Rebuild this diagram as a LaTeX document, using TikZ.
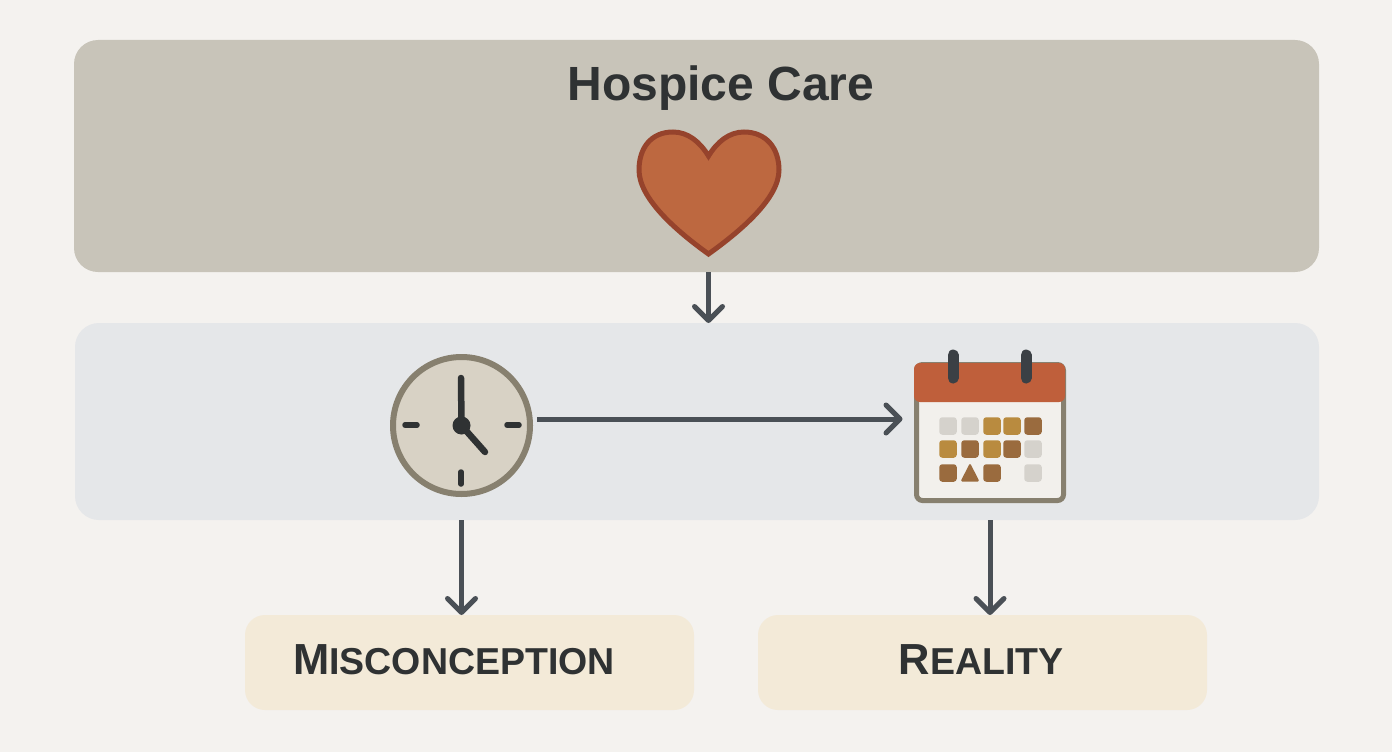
\documentclass[tikz,border=0pt]{standalone}
\usepackage{xcolor}
\usepackage{fontspec}
\usetikzlibrary{arrows.meta}
\setmainfont{Liberation Sans}

\definecolor{pagebg}{HTML}{F4F2EF}
\definecolor{toppanel}{HTML}{C8C4B9}
\definecolor{midpanel}{HTML}{E5E7E9}
\definecolor{boxbg}{HTML}{F3EAD8}
\definecolor{arrowgrey}{HTML}{4A5056}
\definecolor{inkdark}{HTML}{2F3233}
\definecolor{heartfill}{HTML}{BD6840}
\definecolor{heartline}{HTML}{96432C}
\definecolor{clockface}{HTML}{D8D2C5}
\definecolor{rimgrey}{HTML}{87806F}
\definecolor{calred}{HTML}{BF5F3B}
\definecolor{calpaper}{HTML}{F2F0EC}
\definecolor{cellgrey}{HTML}{D5D2CC}
\definecolor{cellgold}{HTML}{B98B3F}
\definecolor{cellbrown}{HTML}{9A6B3E}

\newcommand{\capsword}[2]{{\fontsize{43.5}{44}\selectfont #1}{\fontsize{37.5}{44}\selectfont #2}}

\tikzset{
	panel/.style={rounded corners=24, inner sep=0, outer sep=0},
	labelbox/.style={rounded corners=20, fill=boxbg, minimum width=449, minimum height=95, inner sep=0, outer sep=0},
	boxlabel/.style={anchor=base, text=inkdark, font=\bfseries, inner sep=0},
	flow/.style={draw=arrowgrey, line width=5, -{Straight Barb[length=14, width=28, line width=5, round]}},
	tick/.style={draw=inkdark, line width=5.5, line cap=round},
	cell/.style={rounded corners=3, minimum size=17.5, inner sep=0, outer sep=0},
	greycell/.style={cell, fill=cellgrey},
	goldcell/.style={cell, fill=cellgold},
	browncell/.style={cell, fill=cellbrown}
}

\begin{document}
\begin{tikzpicture}[x=1pt, y=-1pt, node distance=513pt]
	\useasboundingbox (0,0) rectangle (1392,752);
	\fill[pagebg] (0,0) rectangle (1392,752);

	\node[panel, fill=toppanel, minimum width=1245, minimum height=232] (top) at (696.5,156) {};
	\node[panel, fill=midpanel, minimum width=1244, minimum height=197] (mid) at (697,421.5) {};
	\node[labelbox] (mis) at (469.5,662.5) {};
	\node[labelbox] (real)[right of = mis] {};

	\node[anchor=base, text=inkdark, font=\fontsize{48}{48}\selectfont\bfseries, inner sep=0] (title) at (721,100) {Hospice Care};
	\node[boxlabel] (mislabel) at (454,674) {\capsword{M}{ISCONCEPTION}};
	\node[boxlabel] (reallabel) at (981,674) {\capsword{R}{EALITY}};

	% heart
	\coordinate (heart) at (708.5,190);
	\draw[fill=heartfill, draw=heartline, line width=5, line join=miter]
		(708.5,156) .. controls (700,142) and (688,132) .. (673,132)
		.. controls (651,132) and (639,148) .. (639,170)
		.. controls (639,198) and (675,230) .. (708.5,254)
		.. controls (742,230) and (779,198) .. (779,170)
		.. controls (779,148) and (766,132) .. (744,132)
		.. controls (729,132) and (717,142) .. (708.5,156) -- cycle;

	% clock
	\node[circle, fill=clockface, draw=rimgrey, line width=6, minimum size=137, inner sep=0, outer sep=0] (clock) at (461.5,425.5) {};
	\coordinate (tl1) at (405,425);
	\coordinate (tl2) at (417,425);
	\coordinate (tr1) at (507,425);
	\coordinate (tr2) at (519,425);
	\coordinate (tb1) at (461,472);
	\coordinate (tb2) at (461,484);
	\coordinate (minute) at (461,378);
	\coordinate (hour) at (485,452);
	\draw[tick] (tl1) -- (tl2);
	\draw[tick] (tr1) -- (tr2);
	\draw[tick] (tb1) -- (tb2);
	\draw[tick, line width=6.5] (clock.center) -- (minute);
	\draw[tick, line width=6.5] (clock.center) -- (hour);
	\node[circle, fill=inkdark, minimum size=18, inner sep=0] (hub) at (clock.center) {};

	% calendar
	\node[fill=calpaper, draw=rimgrey, line width=5, rounded corners=6, minimum width=147, minimum height=136, inner sep=0, outer sep=0] (cal) at (990,432.5) {};
	\fill[calred, rounded corners=6] (914,402) -- (914,363) -- (1065,363) -- (1065,402) -- cycle;
	\draw[line width=11, line cap=round, draw=arrowgrey!80!black] (953,355) -- (953,378);
	\draw[line width=11, line cap=round, draw=arrowgrey!80!black] (1026,355) -- (1026,378);

	\node[greycell] (c11) at (948,426) {};
	\node[greycell] (c12) at (970,426) {};
	\node[goldcell] (c13) at (992,426) {};
	\node[goldcell] (c14) at (1012,426) {};
	\node[browncell] (c15) at (1033,426) {};
	\node[goldcell] (c21) at (948,449) {};
	\node[browncell] (c22) at (970,449) {};
	\node[goldcell] (c23) at (992,449) {};
	\node[browncell] (c24) at (1012,449) {};
	\node[greycell] (c25) at (1033,449) {};
	\node[browncell] (c31) at (948,473) {};
	\fill[cellbrown, rounded corners=1.5] (970,463) -- (979.5,481.5) -- (960.5,481.5) -- cycle;
	\node[browncell] (c33) at (992,473) {};
	\node[greycell] (c35) at (1033,473) {};

	% connectors
	\draw[flow] (heart |- top.south) -- (heart |- mid.north);
	\draw[flow] ([xshift=7pt, yshift=6.5pt]clock.east) -- ([xshift=-14pt, yshift=13.5pt]cal.west);
	\draw[flow] (clock.south |- mid.south) -- (clock.south |- mis.north);
	\draw[flow] (cal.south |- mid.south) -- (cal.south |- real.north);
\end{tikzpicture}
\end{document}
